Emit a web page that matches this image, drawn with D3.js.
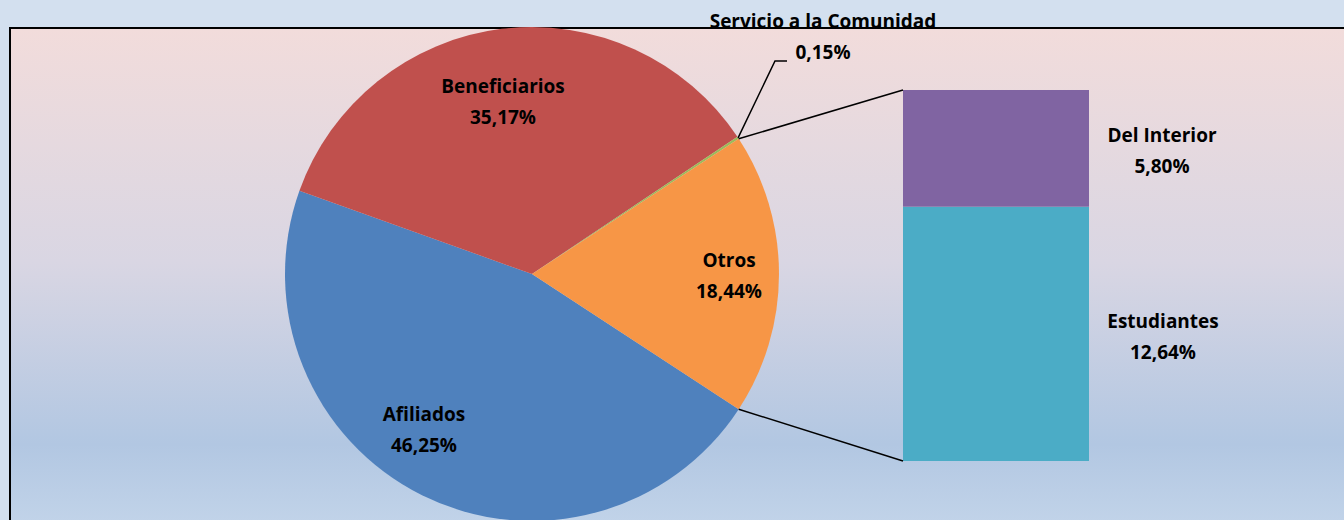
<!DOCTYPE html>
<html><head><meta charset="utf-8">
<script src="https://cdn.jsdelivr.net/npm/d3@7"></script>
<style>html,body{margin:0;padding:0;background:#d3e0ef;}svg{display:block;}</style>
</head><body>
<svg id="c" width="1344" height="520"></svg>
<script>
// Pie categories (clockwise, starting after the split slice)
const pieCategories = ["Afiliados", "Beneficiarios", "Servicio a la Comunidad", "Otros"];
const pieValues = [46.25, 35.17, 0.15, 18.44];
const pieLabels = ["46,25%", "35,17%", "0,15%", "18,44%"];
const pieColors = ["#4f81bd", "#c0504d", "#9bbb59", "#f79646"];
// Bar (breakdown of "Otros")
const barCategories = ["Estudiantes", "Del Interior"];
const barValues = [12.64, 5.80];
const barLabels = ["12,64%", "5,80%"];
const barColors = ["#4bacc6", "#8064a2"];

const W = 1344, H = 520;
const svg = d3.select("#c");
const defs = svg.append("defs");
const g = defs.append("linearGradient").attr("id","bg").attr("x1",0).attr("y1",0).attr("x2",0).attr("y2",1);
g.append("stop").attr("offset","0").attr("stop-color","#f2dcdb");
g.append("stop").attr("offset","0.45").attr("stop-color","#d9d6e3");
g.append("stop").attr("offset","0.8").attr("stop-color","#b2c7e2");
g.append("stop").attr("offset","1").attr("stop-color","#c6d7eb");

svg.append("rect").attr("width",W).attr("height",H).attr("fill","#d3e0ef");
svg.append("rect").attr("x",10).attr("y",28).attr("width",W).attr("height",H)
  .attr("fill","url(#bg)").attr("stroke","#000").attr("stroke-width",2);

const cx = 532, cy = 274, R = 247;
const otrosIdx = 3;
const total = d3.sum(pieValues);
const otrosAngle = pieValues[otrosIdx] / total * 2 * Math.PI;
// Otros centered at angle PI/2 (pointing right)
const start = Math.PI/2 + otrosAngle/2;
const pie = d3.pie().sort(null).value(d=>d).startAngle(start).endAngle(start + 2*Math.PI);
const arcs = pie(pieValues);
const arc = d3.arc().innerRadius(0).outerRadius(R);
const pg = svg.append("g").attr("transform",`translate(${cx},${cy})`);
pg.selectAll("path").data(arcs).join("path").attr("d",arc).attr("fill",(d,i)=>pieColors[i]);

// Bar
const barX = 903, barW = 186, barTop = 90, barBottom = 461;
const y = d3.scaleLinear().domain([0, d3.sum(barValues)]).range([barBottom, barTop]);
let acc = 0;
const stacks = barValues.map(v => { const s = {y0: acc, y1: acc + v}; acc += v; return s; });
svg.selectAll("rect.bar").data(stacks).join("rect").attr("class","bar")
  .attr("x",barX).attr("width",barW)
  .attr("y",d=>y(d.y1)).attr("height",d=>y(d.y0)-y(d.y1))
  .attr("fill",(d,i)=>barColors[i]);

// Connector lines
const oa = arcs[otrosIdx];
const pt = a => [cx + R*Math.sin(a), cy - R*Math.cos(a)];
const pTop = pt(oa.startAngle);
const pBot = pt(oa.endAngle);
svg.append("line").attr("x1",pTop[0]).attr("y1",pTop[1]).attr("x2",barX).attr("y2",y(d3.sum(barValues)))
  .attr("stroke","#000").attr("stroke-width",1.5);
svg.append("line").attr("x1",pBot[0]).attr("y1",pBot[1]).attr("x2",barX).attr("y2",y(0))
  .attr("stroke","#000").attr("stroke-width",1.5);

const font = "'Open Sans', 'Noto Sans', sans-serif";
function label(x, yy, lines, anchor) {
  const t = svg.append("text").attr("x",x).attr("y",yy).attr("text-anchor",anchor||"middle")
    .attr("font-family",font).attr("font-weight","bold").attr("font-size",19).attr("fill","#000");
  lines.forEach((l,i)=>t.append("tspan").attr("x",x).attr("dy", i===0?0:31).text(l));
}
// pie labels
label(424, 421, [pieCategories[0], pieLabels[0]]);
label(503, 93, [pieCategories[1], pieLabels[1]]);
label(729, 267, [pieCategories[3], pieLabels[3]]);
// servicio label with leader
const sa = arcs[2];
const sp = pt((sa.startAngle+sa.endAngle)/2);
svg.append("polyline").attr("points",`${sp[0]},${sp[1]} 775,61 787,61`).attr("fill","none")
  .attr("stroke","#000").attr("stroke-width",1.5);
label(823, 28, [pieCategories[2], pieLabels[2]]);
// bar labels
label(1162, 142, [barCategories[1], barLabels[1]]);
label(1163, 328, [barCategories[0], barLabels[0]]);
</script>
</body></html>
